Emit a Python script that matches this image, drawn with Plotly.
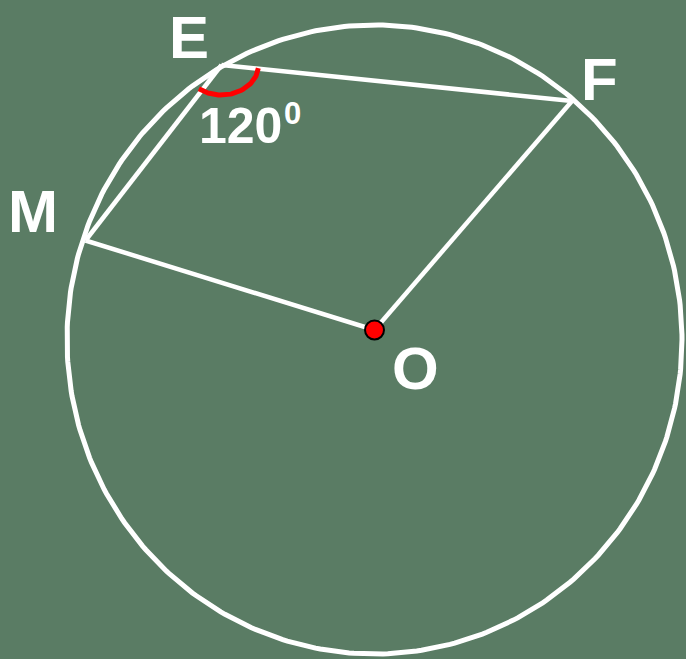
import numpy as np
import plotly.graph_objects as go

# Points of the figure (pixel-like coordinates, y downward)
point_names = ["E", "F", "M", "O"]
point_x = [221.5, 572.0, 85.5, 374.5]
point_y = [65.0, 101.0, 240.5, 330.0]

# Circle (as drawn)
circle_cx, circle_cy = 374.5, 339.5
circle_rx, circle_ry = 307.5, 314.5

# Segments drawn between points
segments = [("E", "F"), ("E", "M"), ("M", "O"), ("O", "F")]

# Angle mark
angle_vertex = "E"
angle_label = "120"
angle_sup = "0"

# Labels and positions of text
label_text = ["E", "F", "M", "O"]
label_x = [189, 599, 33, 415]
label_y = [37, 79, 211, 368]

P = {n: (x, y) for n, x, y in zip(point_names, point_x, point_y)}

fig = go.Figure()

# circle
t = np.linspace(0, 2 * np.pi, 400)
fig.add_trace(go.Scatter(
    x=circle_cx + circle_rx * np.cos(t), y=circle_cy + circle_ry * np.sin(t),
    mode="lines", line=dict(color="white", width=5), hoverinfo="skip", cliponaxis=False))

# segments
for a, b in segments:
    fig.add_trace(go.Scatter(
        x=[P[a][0], P[b][0]], y=[P[a][1], P[b][1]],
        mode="lines", line=dict(color="white", width=4.5), hoverinfo="skip"))

# angle arc at E between EM and EF
ex, ey = P["E"]
a1 = np.arctan2(P["M"][1] - ey, P["M"][0] - ex)
a2 = np.arctan2(P["F"][1] - ey, P["F"][0] - ex)
ang = np.linspace(a2, a1, 60)
fig.add_trace(go.Scatter(
    x=ex + 37 * np.cos(ang), y=ey + 30 * np.sin(ang),
    mode="lines", line=dict(color="#ff0000", width=5), hoverinfo="skip"))

# centre dot
fig.add_trace(go.Scatter(
    x=[P["O"][0]], y=[P["O"][1]], mode="markers",
    marker=dict(size=19, color="#ff0000", line=dict(color="black", width=2)),
    hoverinfo="skip"))

font = dict(family="Liberation Sans, Arial, sans-serif", color="white", size=60, weight="bold")
for txt, x, y in zip(label_text, label_x, label_y):
    fig.add_annotation(x=x, y=y, text=txt, showarrow=False, xanchor="center",
                       yanchor="middle", font=font)
fig.add_annotation(x=240, y=126, text=angle_label, showarrow=False, xanchor="center",
                   yanchor="middle", font=dict(font, size=50))
fig.add_annotation(x=292, y=113, text=angle_sup, showarrow=False, xanchor="center",
                   yanchor="middle", font=dict(font, size=31))

fig.update_layout(
    width=686, height=659, margin=dict(l=0, r=0, t=0, b=0),
    paper_bgcolor="#5a7c64", plot_bgcolor="#5a7c64", showlegend=False,
    xaxis=dict(range=[0, 686], visible=False, fixedrange=True),
    yaxis=dict(range=[659, 0], visible=False, fixedrange=True),
)
fig.write_html("out.html", config={"displayModeBar": False},
               post_script="document.body.style.margin='0';document.body.style.background='#5a7c64';")
